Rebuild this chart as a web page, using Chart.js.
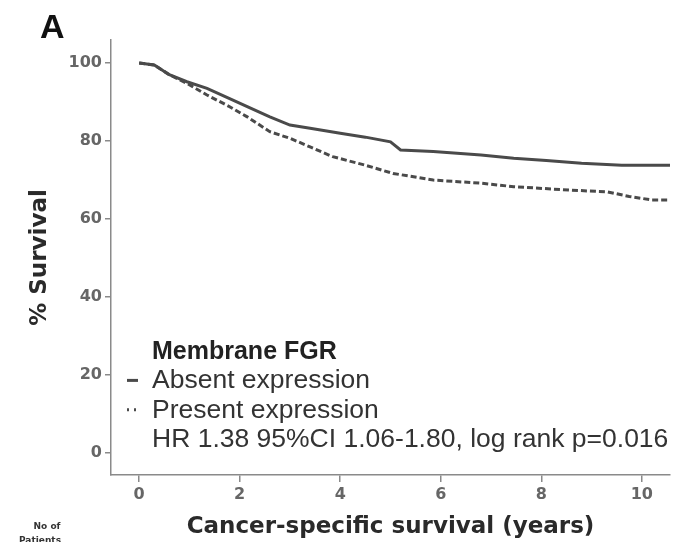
<!DOCTYPE html>
<html>
<head>
<meta charset="utf-8">
<script src="https://cdn.jsdelivr.net/npm/chart.js@4/dist/chart.umd.min.js"></script>
<style>
  html, body { margin: 0; padding: 0; background: #fff; }
  canvas { display: block; }
</style>
</head>
<body>
<canvas id="km" width="676" height="542"></canvas>
<script>
// survival curves (years, % surviving)
const absentYears = [0, 0.3, 0.6, 0.95, 1.35, 1.8, 2.15, 2.6, 3.0, 3.4, 4.0, 4.5, 5.0, 5.2, 5.85, 6.8, 7.45, 8.1, 8.8, 9.6, 10.56];
const absentSurvival = [100, 99.5, 97, 95.2, 93.5, 90.9, 88.8, 86.2, 84.1, 83.3, 82, 81, 79.8, 77.7, 77.3, 76.4, 75.6, 75, 74.3, 73.8, 73.8];

const presentYears = [0, 0.3, 0.6, 0.95, 1.35, 1.8, 2.15, 2.6, 3.0, 3.4, 3.85, 4.5, 5.05, 5.85, 6.8, 7.45, 8.6, 9.3, 9.75, 10.2, 10.56];
const presentSurvival = [100, 99.5, 97, 94.8, 91.8, 88.8, 86.2, 82.4, 80.7, 78.5, 76, 73.8, 71.7, 70, 69.2, 68.3, 67.4, 67, 65.8, 64.9, 64.9];

const seriesLabels = ['Absent expression', 'Present expression'];
const legendTitle = 'Membrane FGR';
const statsText = 'HR 1.38 95%CI 1.06-1.80, log rank p=0.016';

const xTicks = [0, 2, 4, 6, 8, 10];
const yTicks = [0, 20, 40, 60, 80, 100];

function toPoints(xs, ys) {
    return xs.map((x, i) => ({ x: x, y: ys[i] }));
}

const lineColor = '#4a4a4a';
const axisColor = '#8a8a8a';
const tickFont = { family: 'DejaVu Sans', size: 16, weight: 'bold' };
const titleFont = { family: 'DejaVu Sans', size: 23, weight: 'bold' };

// panel letter, legend block and the clipped "No of Patients" note
const annotations = {
    id: 'annotations',
    afterDraw(chart) {
        const ctx = chart.ctx;
        const ds = chart.data.datasets;
        ctx.save();

        ctx.fillStyle = '#111';
        ctx.font = 'bold 34px "Liberation Sans", Arial, sans-serif';
        ctx.textBaseline = 'alphabetic';
        ctx.textAlign = 'left';
        ctx.fillText('A', 40, 38);

        const textX = 152;
        const base = 359;
        const step = 29.4;

        ctx.fillStyle = '#222';
        ctx.font = 'bold 25px "Liberation Sans", Arial, sans-serif';
        ctx.fillText(legendTitle, textX, base);

        ctx.fillStyle = '#333';
        ctx.font = '26.5px "Liberation Sans", Arial, sans-serif';
        seriesLabels.forEach((label, i) => {
            const y = base + step * (i + 1);
            ctx.fillText(label, textX, y);
            // marker drawn in the series' own style
            ctx.strokeStyle = ds[i].borderColor;
            ctx.lineWidth = 3;
            ctx.setLineDash(i === 0 ? [] : [2, 5]);
            ctx.beginPath();
            ctx.moveTo(127, y - 8);
            ctx.lineTo(138, y - 8);
            ctx.stroke();
        });
        ctx.setLineDash([]);
        ctx.fillText(statsText, textX, base + step * 3);

        ctx.fillStyle = '#333';
        ctx.font = 'bold 9px "DejaVu Sans", sans-serif';
        ctx.textAlign = 'center';
        ctx.fillText('No of', 47, 529);
        ctx.fillText('Patients', 40, 543);

        ctx.restore();
    }
};

const ctx = document.getElementById('km').getContext('2d');
const chart = new Chart(ctx, {
    type: 'line',
    data: {
        datasets: [
            {
                label: seriesLabels[0],
                data: toPoints(absentYears, absentSurvival),
                borderColor: lineColor,
                borderWidth: 3,
                pointRadius: 0,
                tension: 0
            },
            {
                label: seriesLabels[1],
                data: toPoints(presentYears, presentSurvival),
                borderColor: lineColor,
                borderWidth: 3,
                borderDash: [6, 3],
                pointRadius: 0,
                tension: 0
            }
        ]
    },
    options: {
        responsive: false,
        animation: false,
        devicePixelRatio: 1,
        layout: { padding: { top: 40, right: 6, left: 0, bottom: 0 } },
        plugins: {
            legend: { display: false },
            tooltip: { enabled: false }
        },
        scales: {
            x: {
                type: 'linear',
                min: -0.56,
                max: 10.56,
                afterBuildTicks: scale => { scale.ticks = xTicks.map(v => ({ value: v })); },
                afterFit: scale => { scale.height = 67; },
                grid: { drawOnChartArea: false, color: axisColor, tickLength: 7, lineWidth: 1.5 },
                border: { display: true, color: axisColor, width: 1.5 },
                ticks: { font: tickFont, color: '#666', padding: 3, maxRotation: 0 },
                title: {
                    display: true,
                    text: 'Cancer-specific survival (years)',
                    font: titleFont,
                    color: '#2a2a2a',
                    padding: { top: 0, bottom: 1 }
                }
            },
            y: {
                min: -5.6,
                max: 105.9,
                afterBuildTicks: scale => { scale.ticks = yTicks.map(v => ({ value: v })); },
                afterFit: scale => { scale.width = 111; },
                grid: { drawOnChartArea: false, color: axisColor, tickLength: 6, lineWidth: 1.5 },
                border: { display: true, color: axisColor, width: 1.5 },
                ticks: { font: tickFont, color: '#666', padding: 3 },
                title: {
                    display: true,
                    text: '% Survival',
                    font: titleFont,
                    color: '#2a2a2a',
                    padding: { top: 26, bottom: 0 }
                }
            }
        }
    },
    plugins: [annotations]
});
</script>
</body>
</html>
